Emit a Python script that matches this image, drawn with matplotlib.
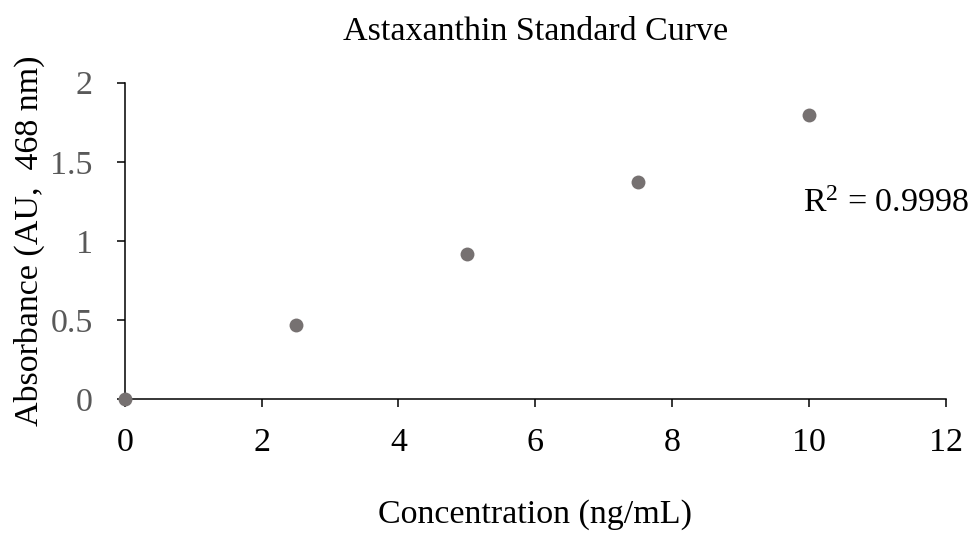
import numpy as np
import matplotlib.pyplot as plt

# Standard curve data
concentration = [0, 2.5, 5, 7.5, 10]
absorbance = [0.0, 0.469, 0.918, 1.372, 1.796]
r_squared = '0.9998'

x_ticks = [0, 2, 4, 6, 8, 10, 12]
y_ticks = [0, 0.5, 1, 1.5, 2]
y_tick_labels = ['0', '0.5', '1', '1.5', '2']

plt.rcParams['font.family'] = ['Liberation Serif', 'DejaVu Serif']
plt.rcParams['mathtext.fontset'] = 'custom'
plt.rcParams['mathtext.rm'] = 'Liberation Serif'
plt.rcParams['mathtext.it'] = 'Liberation Serif'

fig = plt.figure(figsize=(9.72, 5.33), dpi=100)
ax = fig.add_axes([0.1283, 0.2508, 0.973 - 0.1283, 0.8448 - 0.2508])

ax.plot(concentration, absorbance, 'o', color='#767171', markersize=10,
        markeredgewidth=0, clip_on=False, zorder=5)

ax.set_xlim(0, 12)
ax.set_ylim(0, 2)
ax.set_xticks(x_ticks)
ax.set_yticks(y_ticks)
ax.set_yticklabels(y_tick_labels)

for side in ['top', 'right']:
    ax.spines[side].set_visible(False)
for side in ['left', 'bottom']:
    ax.spines[side].set_linewidth(1.1)
    ax.spines[side].set_color('black')

ax.tick_params(axis='x', direction='out', length=6, width=1.1,
               labelsize=24.5, labelcolor='black', pad=14)
ax.tick_params(axis='y', direction='out', length=6, width=1.1,
               labelsize=24.5, labelcolor='#595959', pad=17)

ax.set_title('Astaxanthin Standard Curve', fontsize=24.5, pad=31)
ax.set_xlabel('Concentration (ng/mL)', fontsize=24.5, labelpad=30)
ax.set_ylabel('Absorbance (AU,  468 nm)', fontsize=24.5, labelpad=4)

ax.text(9.92, 1.183, r'R$^\mathregular{2}$ = ' + r_squared, fontsize=24.5,
        va='baseline', ha='left')

fig.savefig('out.png', dpi=100)
